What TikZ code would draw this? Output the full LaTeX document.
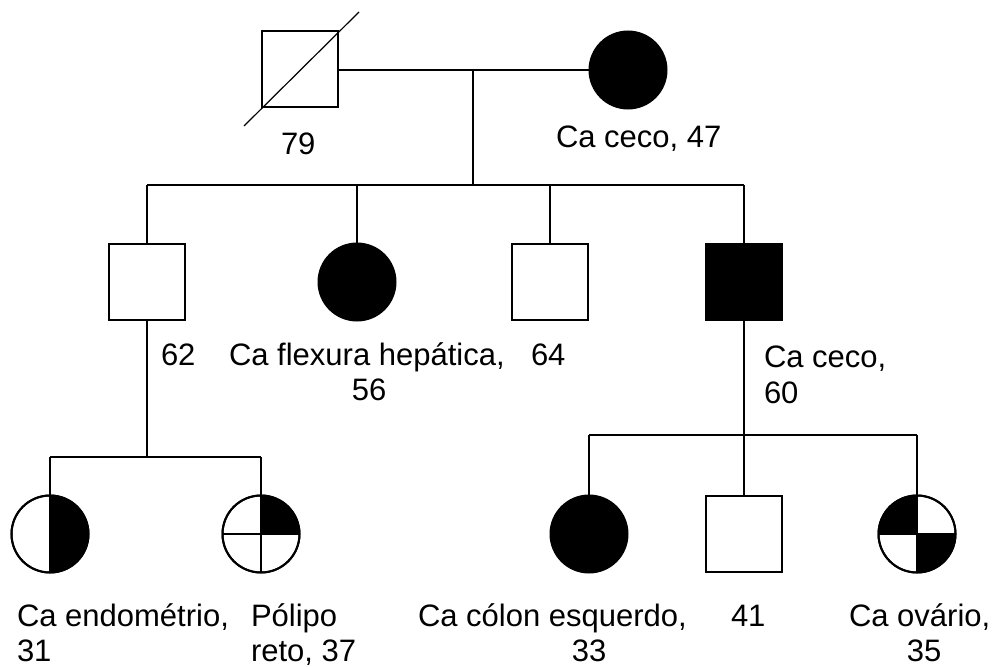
\documentclass[tikz,border=0pt]{standalone}
\usepackage{fontspec}
\setmainfont{Liberation Sans}
\begin{document}
\begin{tikzpicture}[x=1pt,y=-1pt,
  line width=2pt,
  male/.style={draw,rectangle,minimum size=76pt,inner sep=0pt,outer sep=0pt,fill=white},
  female/.style={draw,circle,minimum size=77pt,inner sep=0pt,outer sep=0pt,fill=white},
  affected/.style={fill=black},
  lbl/.style={anchor=base west,inner sep=0pt,font=\fontsize{31}{35}\selectfont},
  lblc/.style={anchor=base,inner sep=0pt,font=\fontsize{31}{35}\selectfont}]
\useasboundingbox (0,0) rectangle (992,666);

% generation I
\node[male] (I1) at (299.5,69) {};
\node[female,affected] (I2) at (628,70) {};
\coordinate (dA) at (244,126);
\coordinate (dB) at (359,12);
\draw[line width=1.2pt] (dA) -- (dB);
\coordinate (mI) at (473,70);
\coordinate (sI) at (473,185);
\draw (I1.east |- mI) -- (I2.west |- mI);
\draw (mI) -- (sI);

% generation II
\node[male] (II1) at (147,282) {};
\node[female,affected] (II2) at (357,282) {};
\node[male] (II3) at (550,282) {};
\node[male,affected] (II4) at (744,282) {};
\draw (II1.north |- sI) -- (II4.north |- sI);
\foreach \n in {II1,II2,II3,II4} \draw (\n.north |- sI) -- (\n.north);

% generation III, left family
\coordinate (sL) at (148,457);
\node[female] (III1) at (50,534) {};
\node[female] (III2) at (261,534) {};
\draw (II1.south) -- (II1.south |- sL);
\draw (III1.north |- sL) -- (III2.north |- sL);
\foreach \n in {III1,III2} \draw (\n.north |- sL) -- (\n.north);

% generation III, right family
\coordinate (sR) at (744,435);
\node[female,affected] (III3) at (589,534) {};
\node[male] (III4) at (744,534) {};
\node[female] (III5) at (917,534) {};
\draw (II4.south) -- (II4.south |- sR);
\draw (III3.north |- sR) -- (III5.north |- sR);
\foreach \n in {III3,III4,III5} \draw (\n.north |- sR) -- (\n.north);

% partially shaded symbols
\fill (III1.south) arc[start angle=-90,end angle=90,radius=38.5pt] -- cycle;
\draw (III1.north) -- (III1.south);
\draw (III1) circle[radius=38.5pt];

\fill (III2.center) -- (III2.east) arc[start angle=0,end angle=90,radius=38.5pt] -- cycle;
\draw (III2.north) -- (III2.south);
\draw (III2.west) -- (III2.east);
\draw (III2) circle[radius=38.5pt];

\fill (III5.center) -- (III5.west) arc[start angle=180,end angle=90,radius=38.5pt] -- cycle;
\fill (III5.center) -- (III5.east) arc[start angle=0,end angle=-90,radius=38.5pt] -- cycle;
\draw (III5.north) -- (III5.south);
\draw (III5.west) -- (III5.east);
\draw (III5) circle[radius=38.5pt];

% labels
\node[lbl] (t79) at (280,154) {79};
\node[lbl] (tI2) at (555,147) {Ca ceco, 47};
\node[lbl] (t62) at (160,365) {62};
\node[lbl] (tII2a) at (228,365) {Ca flexura hepática,};
\node[lblc] (tII2b) at (369,400) {56};
\node[lbl] (t64) at (530,365) {64};
\node[lbl] (tII4a) at (763,367) {Ca ceco,};
\node[lbl] (tII4b) at (763,403) {60};
\node[lbl] (tIII1a) at (16,626) {Ca endométrio,};
\node[lbl] (tIII1b) at (16,661) {31};
\node[lbl] (tIII2a) at (250,626) {Pólipo};
\node[lbl] (tIII2b) at (250,661) {reto, 37};
\node[lbl] (tIII3a) at (417,626) {Ca cólon esquerdo,};
\node[lblc] (tIII3b) at (589,661) {33};
\node[lbl] (t41) at (730,626) {41};
\node[lbl] (tIII5a) at (848,626) {Ca ovário,};
\node[lblc] (tIII5b) at (924,661) {35};
\end{tikzpicture}
\end{document}
